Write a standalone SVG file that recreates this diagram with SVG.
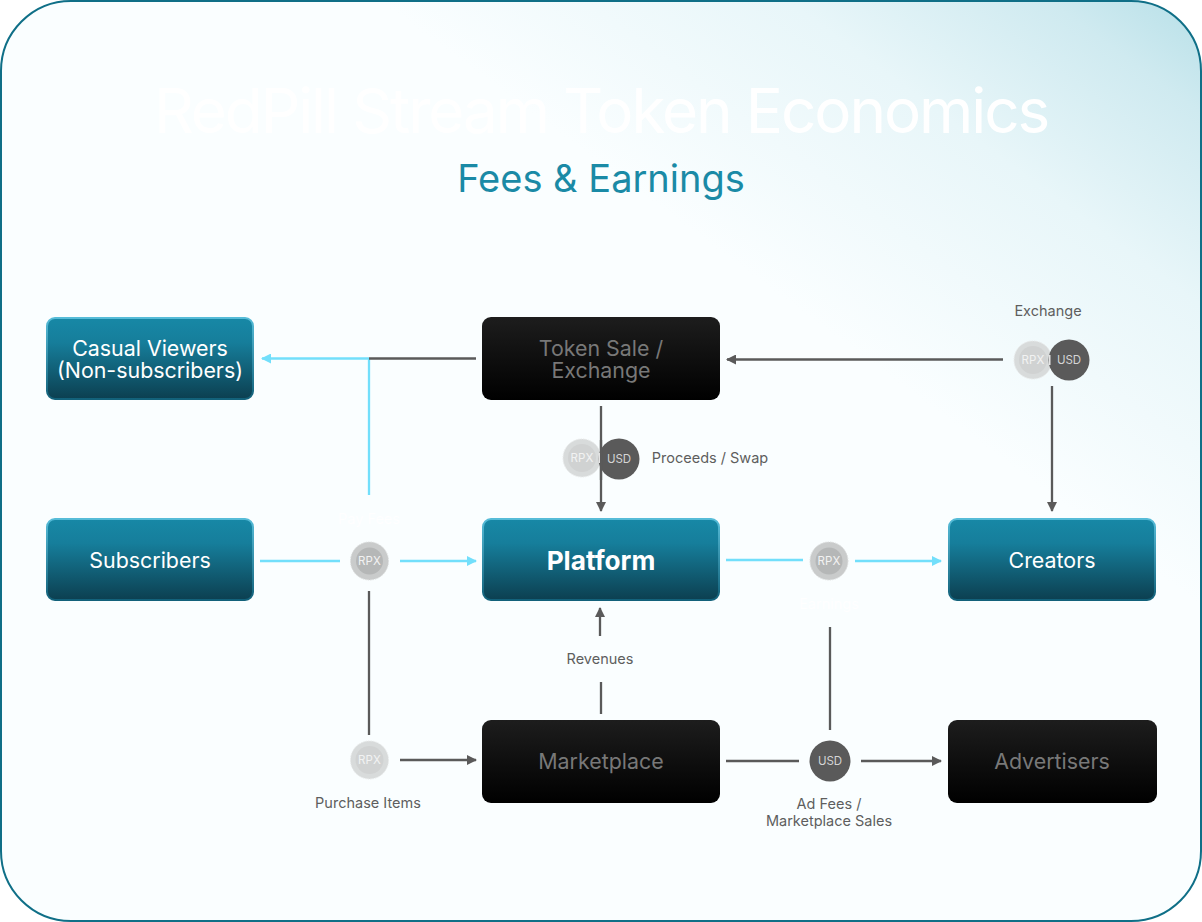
<svg xmlns="http://www.w3.org/2000/svg" width="1202" height="922" viewBox="0 0 1202 922">
<style>
text{font-family:Inter,"Liberation Sans",sans-serif;text-anchor:middle}
.n{font-size:21.4px;fill:#fff}
.d{font-size:21.4px;fill:#787878}
.l{font-size:14.5px;fill:#5e5e5e}
.w{font-size:14.500px;fill:#fff}
.g{fill:none;stroke:#5a5a5a;stroke-width:2.3}
.c{fill:none;stroke:#72dffb;stroke-width:2.3}
.tb{fill:url(#teal);stroke:url(#tealS);stroke-width:2}
.bb{fill:url(#blk)}
.cu{font-size:11.5px;fill:#d4d4d4}
.cr{font-size:11.5px;letter-spacing:.2px;fill:#f2f2f2}
</style>
<defs>
<linearGradient id="bg" gradientUnits="userSpaceOnUse" x1="1097" y1="-72" x2="810" y2="318">
<stop offset="0" stop-color="#b8e0e8"/><stop offset=".18" stop-color="#cfeaf0"/><stop offset=".5" stop-color="#e8f6f9"/><stop offset="1" stop-color="#fafeff"/>
</linearGradient>
<linearGradient id="teal" x1="0" y1="0" x2="0" y2="1">
<stop offset="0" stop-color="#1788a6"/><stop offset=".3" stop-color="#167e9b"/><stop offset="1" stop-color="#0c3f50"/>
</linearGradient>
<linearGradient id="tealS" x1="0" y1="0" x2="0" y2="1">
<stop offset="0" stop-color="#56bcd8"/><stop offset="1" stop-color="#12617a"/>
</linearGradient>
<linearGradient id="blk" x1="0" y1="0" x2="0" y2="1">
<stop offset="0" stop-color="#1d1d1d"/><stop offset="1" stop-color="#000"/>
</linearGradient>
<marker id="ag" markerWidth="10" markerHeight="10" refX="9" refY="5" orient="auto" markerUnits="userSpaceOnUse"><path d="M0 0L10 5L0 10Z" fill="#5a5a5a"/></marker>
<marker id="ac" markerWidth="10" markerHeight="10" refX="9" refY="5" orient="auto" markerUnits="userSpaceOnUse"><path d="M0 0L10 5L0 10Z" fill="#72dffb"/></marker>
<symbol id="rpxd" overflow="visible"><circle r="19" fill="#c9cbcb" stroke="#dcdede" stroke-dasharray="1.5 1"/><circle r="13.5" fill="#b5b7b7"/><text y="4" class="cr">RPX</text></symbol>
<symbol id="rpxl" overflow="visible"><circle r="19" fill="#d8dbdb" stroke="#e8eaea" stroke-dasharray="1.5 1"/><circle r="14" fill="#d0d2d2"/><text y="4" class="cr">RPX</text></symbol>
</defs>

<rect id="frame" x="1" y="1" width="1200" height="920" rx="70" fill="url(#bg)" stroke="#0f6f87" stroke-width="2"/>
<text x="601" y="133" style="font-size:62px;font-weight:400;letter-spacing:-2.1px;fill:#fff">RedPill Stream Token Economics</text>
<text x="601" y="192" style="font-size:38px;font-weight:400;fill:#1a8aa6">Fees &amp; Earnings</text>

<g id="connectors">
<path class="c" d="M369 358.500H262" marker-end="url(#ac)"/>
<path class="c" d="M369 495V358.500"/>
<path class="g" d="M476 358.500H369"/>
<path class="c" d="M260 561H340"/>
<path class="c" d="M400 561H476" marker-end="url(#ac)"/>
<path class="g" d="M369 591V735"/>
<path class="g" d="M400 760H476" marker-end="url(#ag)"/>
<path class="g" d="M601 406V511" marker-end="url(#ag)"/>
<path class="g" d="M600 636V608" marker-end="url(#ag)"/>
<path class="g" d="M601 682V714"/>
<path class="g" d="M1003 359.500H727" marker-end="url(#ag)"/>
<path class="g" d="M1052 386V511" marker-end="url(#ag)"/>
<path class="c" d="M726 560H803"/>
<path class="c" d="M855 561H941" marker-end="url(#ac)"/>
<path class="g" d="M726 761H799"/>
<path class="g" d="M861 761H941" marker-end="url(#ag)"/>
<path class="g" d="M830 627V730"/>
</g>

<g id="casual-viewers"><rect class="tb" x="47" y="318" width="206" height="81" rx="8"/><text class="n" x="150" y="355.500">Casual Viewers</text><text class="n" x="150" y="377.500">(Non-subscribers)</text></g>
<g id="token-sale"><rect class="bb" x="482" y="317" width="238" height="83" rx="9"/><text class="d" x="601" y="355.500">Token Sale /</text><text class="d" x="601" y="377.500">Exchange</text></g>
<g id="subscribers"><rect class="tb" x="47" y="519" width="206" height="81" rx="8"/><text class="n" x="150" y="567.500">Subscribers</text></g>
<g id="platform"><rect class="tb" x="483" y="519" width="236" height="81" rx="8"/><text class="n" x="601" y="569.500" style="font-size:26.2px;font-weight:700">Platform</text></g>
<g id="creators"><rect class="tb" x="949" y="519" width="206" height="81" rx="8"/><text class="n" x="1052" y="567.500">Creators</text></g>
<g id="marketplace"><rect class="bb" x="482" y="720" width="238" height="83" rx="9"/><text class="d" x="601" y="768.500">Marketplace</text></g>
<g id="advertisers"><rect class="bb" x="948" y="720" width="209" height="83" rx="9"/><text class="d" x="1052" y="768.500">Advertisers</text></g>

<g id="coin-exchange"><use href="#rpxl" x="1033" y="360"/><circle cx="1069" cy="360" r="20.500" fill="#5a5a5a"/><rect x="1049" y="355" width="1.500" height="10" fill="#e4e4e4"/><text class="cu" x="1069" y="364">USD</text><text class="l" x="1048" y="316">Exchange</text></g>
<g id="coin-proceeds"><use href="#rpxl" x="582" y="458"/><circle cx="619" cy="459" r="20.500" fill="#5a5a5a"/><path class="g" d="M601 440V480"/><rect x="598.500" y="453" width="1.500" height="10" fill="#e4e4e4"/><text class="cu" x="619" y="463">USD</text><text class="l" x="710" y="463">Proceeds / Swap</text></g>
<g id="coin-pay"><use href="#rpxd" x="369.500" y="561"/><text class="w" x="369" y="524">Pay Fees</text></g>
<g id="coin-earn"><use href="#rpxd" x="829" y="561"/><text class="w" x="829" y="609">Earnings</text></g>
<g id="coin-purchase"><use href="#rpxl" x="369.500" y="760"/><text class="l" x="368" y="807.500">Purchase Items</text></g>
<g id="coin-ad"><circle cx="830" cy="761" r="20.500" fill="#5a5a5a"/><text class="cu" x="830" y="765">USD</text><text class="l" x="829" y="808.500">Ad Fees /</text><text class="l" x="829" y="826">Marketplace Sales</text></g>
<g id="label-revenues"><text class="l" x="600" y="664">Revenues</text></g>
</svg>
